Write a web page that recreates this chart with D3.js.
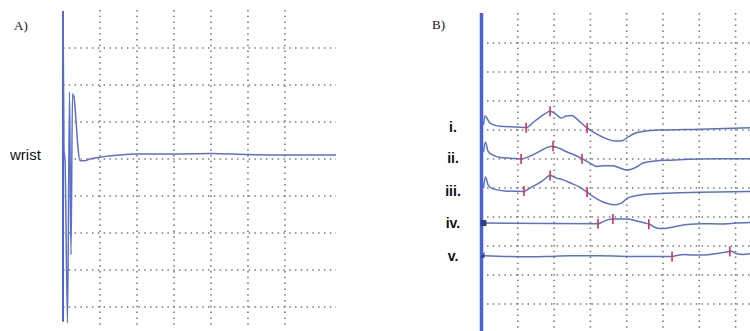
<!DOCTYPE html>
<html>
<head>
<meta charset="utf-8">
<script src="https://cdn.jsdelivr.net/npm/d3@7"></script>
<style>
  body { margin: 0; background: #fff; }
  .grid line { stroke: #7a7a7a; stroke-width: 1.6; stroke-dasharray: 1.5,4.3; }
  .trace { fill: none; stroke: #5b70cc; stroke-width: 1.5; }
  .marker { stroke: #d8304c; stroke-width: 1.6; }
  .lbl { font-family: "Liberation Sans", Arial, sans-serif; fill: #111; }
  .panel { font-family: "Liberation Serif", "Times New Roman", serif; fill: #111; }
</style>
</head>
<body>
<svg id="chart" width="750" height="331"></svg>
<script>
// Panel A: wrist recording, [time in divisions, amplitude in divisions]
const wristTrace = [
  [0, 4.0], [0.027, 0.24], [0.054, -0.03], [0.122, -4.43], [0.176, 1.81],
  [0.216, -2.59], [0.257, 1.76], [0.297, 1.68], [0.351, 1.05], [0.405, 0.30],
  [0.46, -0.05], [0.57, -0.05], [0.73, 0.0], [1.0, 0.05], [1.54, 0.11],
  [2.0, 0.135], [3.0, 0.135], [4.0, 0.15], [5.0, 0.12], [6.0, 0.11], [7.38, 0.11]
];

// Panel B: five traces, amplitude relative to their own baseline
const traceLabels = ["i.", "ii.", "iii.", "iv.", "v."];
const traceBase = [7.10, 6.03, 4.90, 3.79, 2.66];

const traceI = [
  [0.055, 0.07], [0.096, 0.38], [0.234, 0.14], [0.51, 0.03], [0.98, 0], [1.23, -0.02],
  [1.47, 0.21], [1.69, 0.41], [1.89, 0.55], [2.05, 0.45], [2.19, 0.31], [2.33, 0.38],
  [2.49, 0.40], [2.66, 0.24], [2.91, -0.03], [3.13, -0.21], [3.40, -0.38], [3.68, -0.48],
  [3.87, -0.47], [4.04, -0.34], [4.23, -0.21], [4.50, -0.14], [4.92, -0.10], [6.02, -0.07],
  [7.40, -0.02]
];
const traceII = [
  [0.055, 0.21], [0.11, 0.55], [0.18, 0.24], [0.32, 0.10], [0.51, 0.02], [0.79, 0],
  [1.09, -0.03], [1.34, 0.07], [1.61, 0.24], [1.83, 0.38], [1.97, 0.41], [2.16, 0.33],
  [2.36, 0.21], [2.58, 0.10], [2.77, -0.02], [2.99, -0.17], [3.18, -0.29], [3.37, -0.26],
  [3.60, -0.26], [3.81, -0.34], [4.01, -0.41], [4.23, -0.33], [4.45, -0.17], [4.78, -0.10],
  [5.19, -0.07], [6.02, -0.03], [7.40, -0.02]
];
const traceIII = [
  [0.055, 0.10], [0.11, 0.48], [0.18, 0.21], [0.32, 0.07], [0.65, 0], [1.14, -0.02],
  [1.39, 0.14], [1.67, 0.34], [1.89, 0.53], [2.05, 0.45], [2.25, 0.38], [2.44, 0.28],
  [2.69, 0.14], [2.88, -0.02], [3.13, -0.24], [3.40, -0.41], [3.65, -0.48], [3.84, -0.43],
  [4.04, -0.24], [4.37, -0.14], [4.92, -0.09], [6.02, -0.05], [7.40, -0.02]
];
const traceIV = [
  [0.07, 0], [3.21, -0.02], [3.35, 0.05], [3.49, 0.12], [3.62, 0.14], [4.01, 0.14],
  [4.28, 0.07], [4.51, 0], [4.64, -0.05], [4.81, -0.16], [4.97, -0.19], [5.25, -0.14],
  [5.66, -0.05], [6.10, -0.02], [6.57, -0.03], [7.04, 0], [7.40, 0.02]
];
const traceV = [
  [0.07, 0], [1.06, -0.03], [1.75, -0.02], [2.44, 0], [3.26, 0], [4.37, -0.02],
  [5.25, -0.02], [5.41, 0.02], [5.58, 0.05], [5.80, 0.03], [6.10, 0.03], [6.43, 0.07],
  [6.68, 0.12], [6.87, 0.16], [7.04, 0.07], [7.20, 0.05], [7.40, 0.07]
];
const tracesB = [traceI, traceII, traceIII, traceIV, traceV];

// red latency marks, time in divisions
const marksB = [
  [1.23, 1.89, 2.91],
  [1.09, 1.97, 2.77],
  [1.17, 1.89, 2.91],
  [3.21, 3.62, 4.61],
  [5.25, 6.84]
];

const gridA = { x: [1, 2, 3, 4, 5, 6], y: [-4, -3, -2, -1, 0, 1, 2, 3] };
const gridB = { x: [1, 2, 3, 4, 5, 6, 7], y: [1, 2, 3, 4, 5, 6, 7, 8, 9, 10] };

const svg = d3.select('#chart');

// ---------- Panel A ----------
const xA = d3.scaleLinear().domain([0, 7.38]).range([63, 336]);
const yA = d3.scaleLinear().domain([-4.5, 4]).range([325.5, 11]);

const gA = svg.append('g');
const gridAG = gA.append('g').attr('class', 'grid');
gridAG.selectAll('.h').data(gridA.y).join('line')
    .attr('class', 'h')
    .attr('x1', xA(0)).attr('x2', xA(7.38))
    .attr('y1', d => yA(d)).attr('y2', d => yA(d));
gridAG.selectAll('.v').data(gridA.x).join('line')
    .attr('class', 'v')
    .attr('x1', d => xA(d)).attr('x2', d => xA(d))
    .attr('y1', 10).attr('y2', 327);

gA.append('line')
    .attr('x1', xA(0)).attr('x2', xA(0))
    .attr('y1', yA(4)).attr('y2', yA(-4.4))
    .attr('stroke', '#4d64d2').attr('stroke-width', 2);

const lineA = d3.line().x(d => xA(d[0])).y(d => yA(d[1])).curve(d3.curveMonotoneX);
gA.append('path').datum(wristTrace).attr('class', 'trace')
    .attr('stroke', '#4a60cc').attr('stroke-width', 2).attr('d', lineA);

gA.append('text').attr('class', 'panel').attr('x', 14).attr('y', 30)
    .style('font-size', '13px').text('A)');
gA.append('text').attr('class', 'lbl').attr('x', 10).attr('y', yA(0.1) + 5)
    .style('font-size', '15px').text('wrist');

// ---------- Panel B ----------
const xB = d3.scaleLinear().domain([0, 7.4]).range([481.5, 750.1]);
const yB = d3.scaleLinear().domain([0, 11]).range([333, 14]);

const gB = svg.append('g');
const gridBG = gB.append('g').attr('class', 'grid');
gridBG.selectAll('.h').data(gridB.y).join('line')
    .attr('class', 'h')
    .attr('x1', 487).attr('x2', 750)
    .attr('y1', d => yB(d)).attr('y2', d => yB(d));
gridBG.selectAll('.v').data(gridB.x).join('line')
    .attr('class', 'v')
    .attr('x1', d => xB(d)).attr('x2', d => xB(d))
    .attr('y1', 13).attr('y2', 331);

gB.append('line')
    .attr('x1', xB(0)).attr('x2', xB(0))
    .attr('y1', 13).attr('y2', 331)
    .attr('stroke', '#4a62d4').attr('stroke-width', 3.5);

tracesB.forEach((tr, i) => {
  let base = traceBase[i];
  let lineB = d3.line().x(d => xB(d[0])).y(d => yB(base + d[1])).curve(d3.curveMonotoneX);
  gB.append('path').datum(tr).attr('class', 'trace').attr('d', lineB);

  // markers sit on the trace
  let ts = tr.map(d => d[0]), vs = tr.map(d => d[1]);
  let interp = d3.scaleLinear().domain(ts).range(vs);
  gB.selectAll(`.mk${i}`).data(marksB[i]).join('line')
      .attr('class', `marker mk${i}`)
      .attr('x1', d => xB(d)).attr('x2', d => xB(d))
      .attr('y1', d => yB(base + interp(d)) - 5)
      .attr('y2', d => yB(base + interp(d)) + 5);

  gB.append('text').attr('class', 'lbl')
      .attr('x', 453).attr('y', yB(base) + 5)
      .attr('text-anchor', 'middle')
      .style('font-size', '14px')
      .style('font-weight', '600')
      .text(traceLabels[i]);
});

// small start glyphs on traces iv and v
gB.append('rect').attr('x', xB(0) - 1).attr('y', yB(traceBase[3]) - 3)
    .attr('width', 6).attr('height', 6).attr('fill', '#2c3f8a');
gB.append('path')
    .attr('d', `M${xB(0) - 1},${yB(traceBase[4]) + 2} L${xB(0) + 3},${yB(traceBase[4]) - 4} L${xB(0) + 3},${yB(traceBase[4]) + 2} Z`)
    .attr('fill', '#2c3f8a');

gB.append('text').attr('class', 'panel').attr('x', 432).attr('y', 29)
    .style('font-size', '13px').text('B)');
</script>
</body>
</html>
